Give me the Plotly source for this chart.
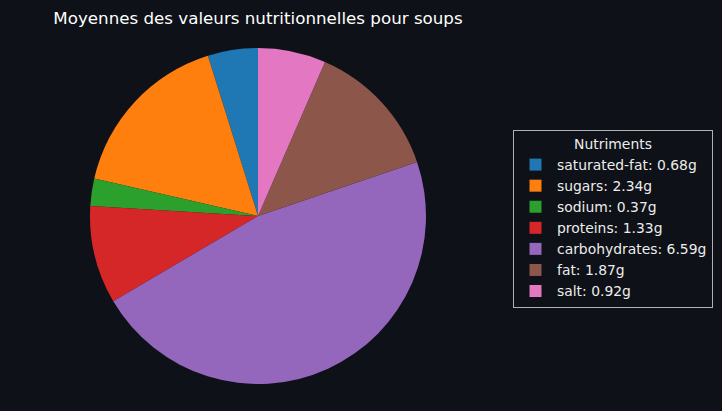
import plotly.graph_objects as go

nutrients = ["saturated-fat", "sugars", "sodium", "proteins", "carbohydrates", "fat", "salt"]
values = [0.68, 2.34, 0.37, 1.33, 6.59, 1.87, 0.92]
colors = ["#1f77b4", "#ff7f0e", "#2ca02c", "#d62728", "#9467bd", "#8c564b", "#e377c2"]
labels = [f"{n}: {v:.2f}g" for n, v in zip(nutrients, values)]

W, H = 722, 411
first_angle = 360 * values[0] / sum(values)
fig = go.Figure(go.Pie(
    labels=labels, values=values, sort=False, direction="counterclockwise", rotation=-first_angle,
    marker=dict(colors=colors, line=dict(width=0)), textinfo="none", hoverinfo="label+percent",
    domain=dict(x=[90 / W, 426 / W], y=[1 - 384 / H, 1 - 48 / H]),
))
fig.update_layout(
    width=W, height=H, margin=dict(l=0, r=0, t=0, b=0),
    paper_bgcolor="#0e1117", plot_bgcolor="#0e1117",
    font=dict(family="DejaVu Sans", color="#e6e6e6", size=14),
    title=dict(text="Moyennes des valeurs nutritionnelles pour soups", x=258 / W, xanchor="center",
               y=1 - 18 / H, yanchor="middle", font=dict(size=16.7, color="#ffffff")),
    legend=dict(title=dict(text="Nutriments", side="top center", font=dict(size=13.9)),
                x=513 / W, xanchor="left", y=1 - 130 / H, yanchor="top",
                bgcolor="#0e1117", bordercolor="#b0b0b0", borderwidth=1, itemwidth=33,
                font=dict(size=13.9, color="#ececec")),
)
fig.write_html("out.html", config={"displayModeBar": False},
               post_script="document.body.style.margin='0';document.body.style.background='#0e1117';")
